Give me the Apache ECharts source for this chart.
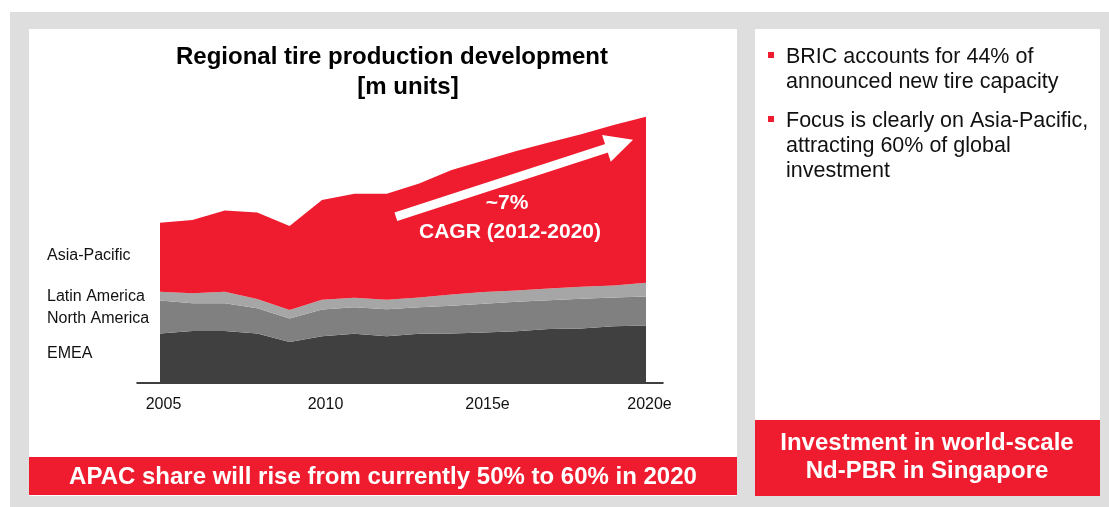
<!DOCTYPE html>
<html>
<head>
<meta charset="utf-8">
<script src="https://cdn.jsdelivr.net/npm/echarts@6/dist/echarts.min.js"></script>
<style>
  html, body { margin: 0; padding: 0; background: #fff; }
  #chart { width: 1109px; height: 507px; }
</style>
</head>
<body>
<div id="chart"></div>
<script>
// m units
const years = ['2005', '2006', '2007', '2008', '2009', '2010', '2011', '2012', '2013', '2014', '2015', '2016', '2017', '2018', '2019', '2020']
const emea = [370, 390, 390, 370, 308, 350, 368, 350, 368, 370, 378, 388, 405, 408, 425, 430]
const northAmerica = [248, 208, 208, 190, 175, 200, 200, 203, 200, 208, 215, 220, 215, 223, 215, 218]
const latinAmerica = [65, 75, 85, 70, 63, 73, 70, 70, 73, 85, 88, 85, 88, 90, 90, 103]
const asiaPacific = [518, 548, 610, 648, 630, 748, 780, 795, 853, 933, 985, 1045, 1093, 1143, 1203, 1243]
const tickYears = [2005, 2010, 2015, 2020]
const tickLabels = {2005: '2005', 2010: '2010', 2015: '2015e', 2020: '2020e'}
// CAGR arrow, [year, m units]
const cagrArrow = [[2012.28, 1245], [2019.19, 1790]]

const RED = '#ee1c2e'
const FONT = '"Liberation Sans", Arial, sans-serif'

const chart = echarts.init(document.getElementById('chart'))

function area(name, vals, color) {
  return {
    name,
    type: 'line',
    stack: 'total',
    symbol: 'none',
    lineStyle: {width: 0},
    areaStyle: {color, opacity: 1},
    itemStyle: {color},
    data: vals
  }
}

function label(text, y) {
  return {type: 'text', z: 10, style: {x: 47, y, text, font: '16px ' + FONT, fill: '#111', verticalAlign: 'middle'}}
}

function centered(text, x, y, size, color) {
  return {type: 'text', z: 10, style: {x, y, text, font: 'bold ' + size + 'px ' + FONT, fill: color, align: 'center', verticalAlign: 'middle'}}
}

const option = {
  animation: false,
  backgroundColor: '#fff',
  grid: [
    {left: 160, right: 463, top: 116, bottom: 124},
    {left: 137, right: 446, top: 116, bottom: 124}
  ],
  xAxis: [{
    type: 'category',
    gridIndex: 0,
    boundaryGap: false,
    data: years,
    show: false
  }, {
    // axis line and labels run a bit past the data on both sides
    type: 'value',
    gridIndex: 1,
    min: 2004.29,
    max: 2020.525,
    splitLine: {show: false},
    axisTick: {show: false},
    axisLine: {show: true, onZero: false, lineStyle: {color: '#000', width: 1.5}},
    axisLabel: {
      customValues: tickYears,
      formatter: v => tickLabels[v] || '',
      color: '#111',
      fontSize: 16,
      fontFamily: FONT,
      margin: 14,
      padding: [0, 0, 0, 7]
    }
  }],
  yAxis: [
    {type: 'value', gridIndex: 0, min: 0, max: 2000, show: false},
    {type: 'value', gridIndex: 1, min: 0, max: 2000, show: false}
  ],
  graphic: [
    // frame and panels
    {type: 'rect', z: -10, shape: {x: 10, y: 12, width: 1099, height: 495}, style: {fill: '#dedede'}},
    {type: 'rect', z: -9, shape: {x: 29, y: 29, width: 708, height: 467}, style: {fill: '#fff'}},
    {type: 'rect', z: -9, shape: {x: 755, y: 29, width: 345, height: 467}, style: {fill: '#fff'}},
    {type: 'rect', z: 5, shape: {x: 29, y: 457, width: 708, height: 38}, style: {fill: RED}},
    {type: 'rect', z: 5, shape: {x: 755, y: 420, width: 345, height: 76}, style: {fill: RED}},
    // title
    centered('Regional tire production development', 392, 57, 24, '#000'),
    centered('[m units]', 408, 87, 24, '#000'),
    // region labels
    label('Asia-Pacific', 256),
    label('Latin America', 297),
    label('North America', 319),
    label('EMEA', 354),
    // CAGR note
    centered('~7%', 507, 203, 21, '#fff'),
    centered('CAGR (2012-2020)', 510, 232, 21, '#fff'),
    // banners
    centered('APAC share will rise from currently 50% to 60% in 2020', 383, 477, 24, '#fff'),
    centered('Investment in world-scale', 927, 443, 24, '#fff'),
    centered('Nd-PBR in Singapore', 927, 471, 24, '#fff'),
    // bullets
    {type: 'rect', z: 10, shape: {x: 768, y: 52, width: 6, height: 6}, style: {fill: RED}},
    {type: 'text', z: 10, style: {x: 786, y: 45, text: 'BRIC accounts for 44% of\nannounced new tire capacity', font: '21.5px ' + FONT, lineHeight: 25, fill: '#111'}},
    {type: 'rect', z: 10, shape: {x: 768, y: 116, width: 6, height: 6}, style: {fill: RED}},
    {type: 'text', z: 10, style: {x: 786, y: 109, text: 'Focus is clearly on Asia-Pacific,\nattracting 60% of global\ninvestment', font: '21.5px ' + FONT, lineHeight: 25, fill: '#111'}}
  ],
  series: [
    area('EMEA', emea, '#404040'),
    area('North America', northAmerica, '#808080'),
    area('Latin America', latinAmerica, '#a6a6a6'),
    area('Asia-Pacific', asiaPacific, RED),
    {
      name: 'CAGR',
      type: 'lines',
      coordinateSystem: 'cartesian2d',
      xAxisIndex: 1,
      yAxisIndex: 1,
      silent: true,
      z: 5,
      symbol: ['none', 'triangle'],
      symbolSize: 28,
      lineStyle: {color: '#fff', width: 9, opacity: 1, curveness: 0},
      data: [{coords: cagrArrow}]
    }
  ]
}

chart.setOption(option)
</script>
</body>
</html>
